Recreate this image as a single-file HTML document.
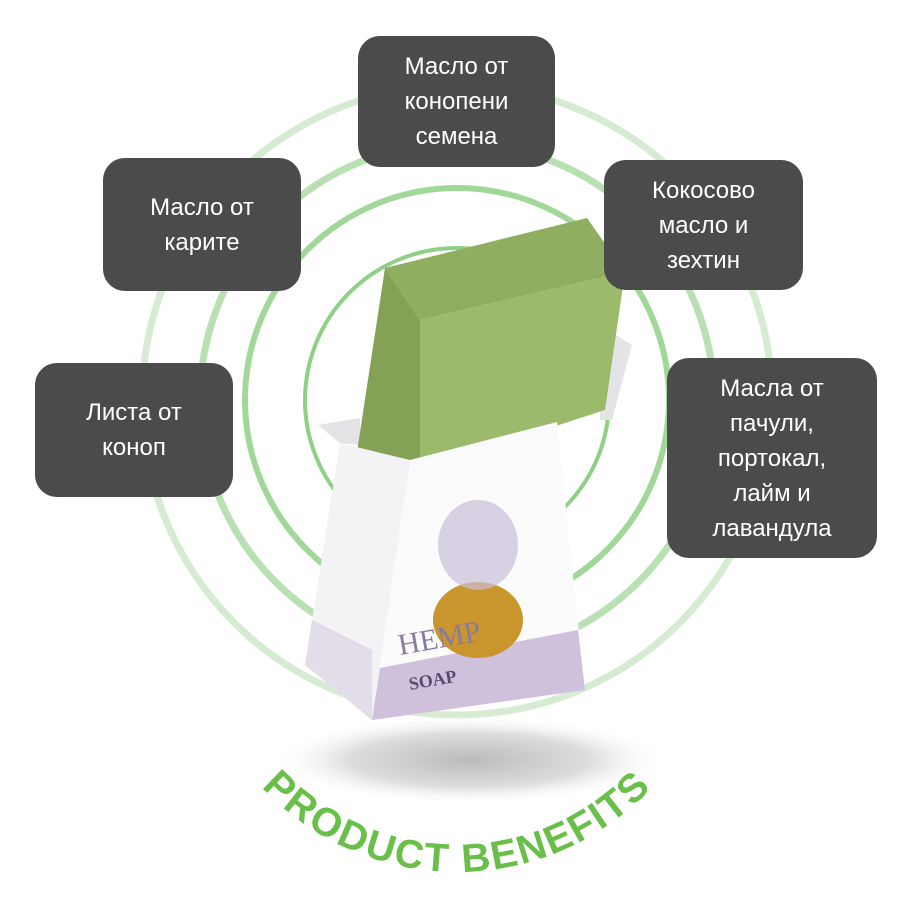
<!DOCTYPE html>
<html><head><meta charset="utf-8"><style>
html,body{margin:0;padding:0;background:#fff;}
.w{position:relative;width:913px;height:913px;overflow:hidden;background:#fff;}
.b{position:absolute;background:#4b4b4b;border-radius:22px;color:#fff;font-family:"Liberation Sans","DejaVu Sans",sans-serif;font-size:24px;line-height:35px;display:flex;align-items:center;justify-content:center;text-align:center;}
svg{position:absolute;left:0;top:0;}
</style></head><body><div class="w">
<svg width="913" height="913" viewBox="0 0 913 913">
<defs>
<radialGradient id="sh" cx="50%" cy="50%" r="50%"><stop offset="0" stop-color="#bbb"/><stop offset="0.6" stop-color="#ddd"/><stop offset="1" stop-color="#fff" stop-opacity="0"/></radialGradient>
<path id="arc" d="M 190 605 A 267 267 0 0 0 724 605"/>
</defs>
<circle cx="457" cy="400" r="315" fill="none" stroke="#d6ecd2" stroke-width="7"/>
<circle cx="457" cy="400" r="257" fill="none" stroke="#b9e0b2" stroke-width="7"/>
<circle cx="457" cy="400" r="212" fill="none" stroke="#a2d79a" stroke-width="6"/>
<circle cx="457" cy="400" r="152" fill="none" stroke="#8fcf86" stroke-width="4"/>
<ellipse cx="470" cy="760" rx="200" ry="45" fill="url(#sh)"/>
<polygon points="318,425 360,418 360,445 340,443" fill="#e4e4e6"/>
<polygon points="600,325 632,345 612,420 600,420" fill="#e4e4e6"/>
<polygon points="385,268 587,218 625,272 420,320" fill="#8fae60"/>
<polygon points="385,268 420,320 420,470 355,465" fill="#84a256"/>
<polygon points="420,320 625,272 605,410 420,470" fill="#9cba6c"/>
<polygon points="340,443 410,460 372,720 305,665" fill="#f3f2f4"/>
<polygon points="410,460 557,422 585,690 372,720" fill="#fbfbfc"/>
<polygon points="380,668 578,630 585,690 372,720" fill="#cfc0dc"/>
<polygon points="312,620 372,650 372,720 305,665" fill="#e2dde8"/>
<ellipse cx="478" cy="620" rx="45" ry="38" fill="#c8962c"/>
<ellipse cx="478" cy="545" rx="40" ry="45" fill="#c9bdd8" opacity="0.7"/>
<text x="400" y="655" font-family="Liberation Serif,serif" font-size="30" fill="#8a7aa0" transform="rotate(-10 400 655)">HEMP</text>
<text x="410" y="690" font-family="Liberation Serif,serif" font-weight="bold" font-size="18" fill="#5a4a70" transform="rotate(-10 410 690)">SOAP</text>
<text font-family="Liberation Sans,sans-serif" font-weight="bold" font-size="40" fill="#6abf4b" text-anchor="middle"><textPath href="#arc" startOffset="50%" letter-spacing="2">PRODUCT BENEFITS</textPath></text>
</svg>
<div class="b" style="left:358px;top:36px;width:197px;height:131px;">Масло от<br>конопени<br>семена</div>
<div class="b" style="left:103px;top:158px;width:198px;height:133px;">Масло от<br>карите</div>
<div class="b" style="left:604px;top:160px;width:199px;height:130px;">Кокосово<br>масло и<br>зехтин</div>
<div class="b" style="left:35px;top:363px;width:198px;height:134px;">Листа от<br>коноп</div>
<div class="b" style="left:667px;top:358px;width:210px;height:200px;">Масла от<br>пачули,<br>портокал,<br>лайм и<br>лавандула</div>
</div></body></html>
